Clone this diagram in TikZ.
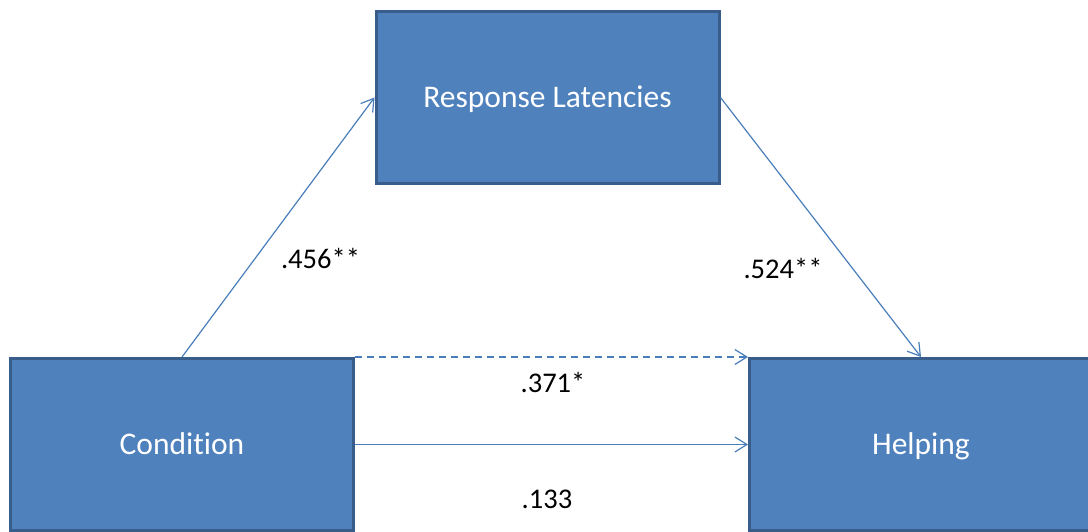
\documentclass[tikz,border=0pt]{standalone}
\usepackage{fontspec}
\setmainfont[Ligatures={NoCommon}]{Carlito}
\usetikzlibrary{arrows.meta}
\definecolor{boxfill}{HTML}{4F81BD}
\definecolor{boxline}{HTML}{385D8A}
\definecolor{arrowcol}{HTML}{4A7EBB}
\tikzset{
  box/.style={draw=boxline, fill=boxfill, line width=3pt, inner sep=0pt,
    minimum width=343pt, minimum height=172pt, text=white,
    text height=26pt, text depth=6pt,
    font=\fontsize{31.5}{36}\selectfont},
  conn/.style={draw=arrowcol, line width=1.2pt,
    -{Straight Barb[length=12pt,width=15pt,line width=1.2pt]}},
  lbl/.style={anchor=base, font=\fontsize{28.5}{32}\selectfont, text=black, inner sep=0pt}
}
\begin{document}
\begin{tikzpicture}[x=1pt,y=-1pt]
\useasboundingbox (0,0) rectangle (1088,532);
\begin{scope}
\clip (0,0) rectangle (1088,532);
\node[box] (cond) at (182,444.5) {Condition};
\node[box] (rl) at (547.5,97.5) {Response Latencies};
\node[box] (help) at (921,444.5) {Helping};
\end{scope}
\draw[conn] (cond.north) -- (rl.west);
\draw[conn] (rl.east) -- (help.north);
\draw[conn, dash pattern=on 7pt off 5pt] (cond.north east) -- (help.north west);
\draw[conn] (cond.east) -- (help.west);
\node[lbl] (l1) at (320.5,268) {.456**};
\node[lbl] (l2) at (783,278) {.524**};
\node[lbl] (l3) at (553,392) {.371*};
\node[lbl] (l4) at (547,508) {.133};
\end{tikzpicture}
\end{document}
